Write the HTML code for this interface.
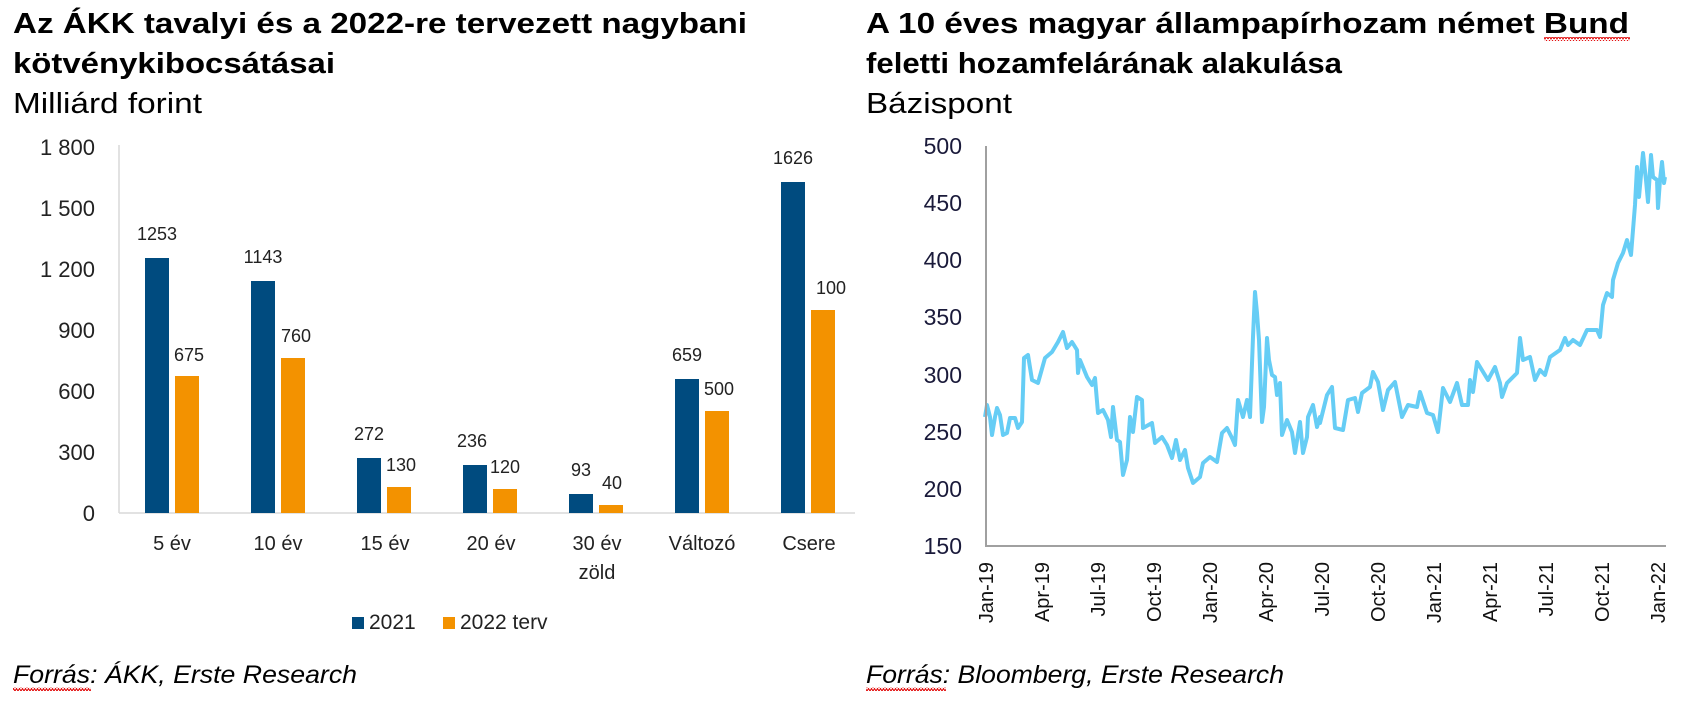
<!DOCTYPE html>
<html><head><meta charset="utf-8"><style>
html,body{margin:0;padding:0;background:#fff;}
svg{display:block;font-family:"Liberation Sans",Arial,sans-serif;}
</style></head><body>
<svg width="1697" height="703" viewBox="0 0 1697 703" xmlns="http://www.w3.org/2000/svg">
<defs>
<pattern id="wv" width="6" height="4" patternUnits="userSpaceOnUse">
<path d="M0,3 L1.5,0.5 L3,3 L4.5,0.5 L6,3" fill="none" stroke="#e00000" stroke-width="1"/>
</pattern>
</defs>
<!-- LEFT CHART -->
<g font-weight="bold" font-size="29" fill="#000">
<text x="13" y="33" textLength="734" lengthAdjust="spacingAndGlyphs">Az ÁKK tavalyi és a 2022-re tervezett nagybani</text>
<text x="13" y="73" textLength="322" lengthAdjust="spacingAndGlyphs">kötvénykibocsátásai</text>
</g>
<text x="13" y="113" font-size="29" textLength="189" lengthAdjust="spacingAndGlyphs">Milliárd forint</text>
<g font-size="22" fill="#222" text-anchor="end">
<text x="95" y="155">1 800</text><text x="95" y="216">1 500</text><text x="95" y="277">1 200</text>
<text x="95" y="338">900</text><text x="95" y="399">600</text><text x="95" y="460">300</text><text x="95" y="521">0</text>
</g>
<line x1="119" y1="145" x2="119" y2="513" stroke="#d9d9d9" stroke-width="1.5"/>
<line x1="119" y1="513" x2="855" y2="513" stroke="#d9d9d9" stroke-width="1.5"/>
<g fill="#004b7f">
<rect x="145" y="258" width="24" height="255"/>
<rect x="251" y="281" width="24" height="232"/>
<rect x="357" y="458" width="24" height="55"/>
<rect x="463" y="465" width="24" height="48"/>
<rect x="569" y="494" width="24" height="19"/>
<rect x="675" y="379" width="24" height="134"/>
<rect x="781" y="182" width="24" height="331"/>
</g>
<g fill="#f39200">
<rect x="175" y="376" width="24" height="137"/>
<rect x="281" y="358" width="24" height="155"/>
<rect x="387" y="487" width="24" height="26"/>
<rect x="493" y="489" width="24" height="24"/>
<rect x="599" y="505" width="24" height="8"/>
<rect x="705" y="411" width="24" height="102"/>
<rect x="811" y="310" width="24" height="203"/>
</g>
<g font-size="18" fill="#222" text-anchor="middle">
<text x="157" y="240">1253</text><text x="189" y="361">675</text>
<text x="263" y="263">1143</text><text x="296" y="342">760</text>
<text x="369" y="440">272</text><text x="401" y="471">130</text>
<text x="472" y="447">236</text><text x="505" y="473">120</text>
<text x="581" y="476">93</text><text x="612" y="489">40</text>
<text x="687" y="361">659</text><text x="719" y="395">500</text>
<text x="793" y="164">1626</text><text x="831" y="294">100</text>
</g>
<rect x="856" y="0" width="6" height="703" fill="#fff"/>
<g font-size="20" fill="#222" text-anchor="middle">
<text x="172" y="550">5 év</text><text x="278" y="550">10 év</text><text x="385" y="550">15 év</text>
<text x="491" y="550">20 év</text><text x="597" y="550">30 év</text><text x="597" y="579">zöld</text>
<text x="702" y="550">Változó</text><text x="809" y="550">Csere</text>
</g>
<rect x="352" y="617" width="12" height="12" fill="#004b7f"/>
<text x="369" y="629" font-size="21" fill="#222">2021</text>
<rect x="443" y="617" width="12" height="12" fill="#f39200"/>
<text x="460" y="629" font-size="21" fill="#222">2022 terv</text>
<text x="13" y="683" font-size="25" font-style="italic" textLength="344" lengthAdjust="spacingAndGlyphs">Forrás: ÁKK, Erste Research</text>
<rect x="13" y="687" width="78" height="4" fill="url(#wv)"/>

<!-- RIGHT CHART -->
<g font-weight="bold" font-size="29" fill="#000">
<text x="866" y="33" textLength="763" lengthAdjust="spacingAndGlyphs">A 10 éves magyar állampapírhozam német Bund</text>
<text x="866" y="73" textLength="476" lengthAdjust="spacingAndGlyphs">feletti hozamfelárának alakulása</text>
</g>
<rect x="1544" y="37" width="86" height="4" fill="url(#wv)"/>
<text x="866" y="113" font-size="29" textLength="146" lengthAdjust="spacingAndGlyphs">Bázispont</text>
<g font-size="23" fill="#1a1a3a" text-anchor="end">
<text x="962" y="154">500</text><text x="962" y="211">450</text><text x="962" y="268">400</text>
<text x="962" y="325">350</text><text x="962" y="383">300</text><text x="962" y="440">250</text>
<text x="962" y="497">200</text><text x="962" y="554">150</text>
</g>
<polyline fill="none" stroke="#66cdf5" stroke-width="4" stroke-linejoin="round" points="985,417 987,405 990,417 992,435 995,417 997,408 1000,415 1003,435 1007,433 1010,418 1015,418 1018,428 1022,422 1024,358 1028,355 1032,380 1038,383 1045,358 1052,352 1058,342 1063,332 1067,348 1072,342 1077,350 1078,373 1080,360 1087,377 1092,385 1095,378 1098,413 1103,410 1108,420 1111,437 1113,407 1117,440 1120,442 1123,475 1127,460 1130,417 1133,432 1137,397 1142,400 1143,428 1152,423 1155,443 1162,437 1167,445 1172,458 1176,440 1180,460 1185,450 1188,468 1193,483 1200,477 1203,463 1210,457 1217,462 1222,433 1227,428 1232,438 1235,445 1238,400 1243,417 1247,400 1250,417 1253,337 1255,292 1257,313 1259,340 1262,422 1264,407 1267,338 1269,360 1272,375 1275,377 1277,395 1280,383 1282,435 1287,420 1292,432 1295,453 1300,422 1303,453 1307,437 1308,417 1313,405 1317,427 1320,417 1320,423 1327,395 1332,387 1335,428 1343,430 1348,400 1355,398 1358,412 1362,393 1370,387 1373,372 1378,382 1383,410 1388,390 1395,382 1402,417 1408,405 1417,407 1420,392 1427,413 1433,415 1438,432 1443,388 1450,402 1457,383 1462,405 1468,405 1470,380 1473,392 1477,362 1488,380 1495,367 1500,383 1502,397 1507,383 1517,373 1520,338 1523,360 1530,357 1535,380 1540,370 1545,375 1550,357 1560,350 1565,338 1568,345 1573,340 1580,345 1587,330 1597,330 1600,337 1603,305 1607,293 1612,297 1613,280 1618,263 1623,253 1627,240 1631,255 1633,230 1635,205 1637,167 1639,197 1643,153 1646,180 1648,202 1651,155 1653,177 1657,180 1658,208 1660,180 1662,162 1664,183 1665,177"/>
<line x1="986" y1="146" x2="986" y2="546" stroke="#a0a0a0" stroke-width="2"/>
<line x1="985" y1="546" x2="1666" y2="546" stroke="#a0a0a0" stroke-width="2"/>
<g font-size="20" fill="#111" text-anchor="end">
<text transform="translate(993,562) rotate(-90)">Jan-19</text>
<text transform="translate(1049,562) rotate(-90)">Apr-19</text>
<text transform="translate(1105,562) rotate(-90)">Jul-19</text>
<text transform="translate(1161,562) rotate(-90)">Oct-19</text>
<text transform="translate(1217,562) rotate(-90)">Jan-20</text>
<text transform="translate(1273,562) rotate(-90)">Apr-20</text>
<text transform="translate(1329,562) rotate(-90)">Jul-20</text>
<text transform="translate(1385,562) rotate(-90)">Oct-20</text>
<text transform="translate(1441,562) rotate(-90)">Jan-21</text>
<text transform="translate(1497,562) rotate(-90)">Apr-21</text>
<text transform="translate(1553,562) rotate(-90)">Jul-21</text>
<text transform="translate(1609,562) rotate(-90)">Oct-21</text>
<text transform="translate(1665,562) rotate(-90)">Jan-22</text>
</g>
<text x="866" y="683" font-size="25" font-style="italic" textLength="418" lengthAdjust="spacingAndGlyphs">Forrás: Bloomberg, Erste Research</text>
<rect x="866" y="687" width="80" height="4" fill="url(#wv)"/>
</svg>
</body></html>
